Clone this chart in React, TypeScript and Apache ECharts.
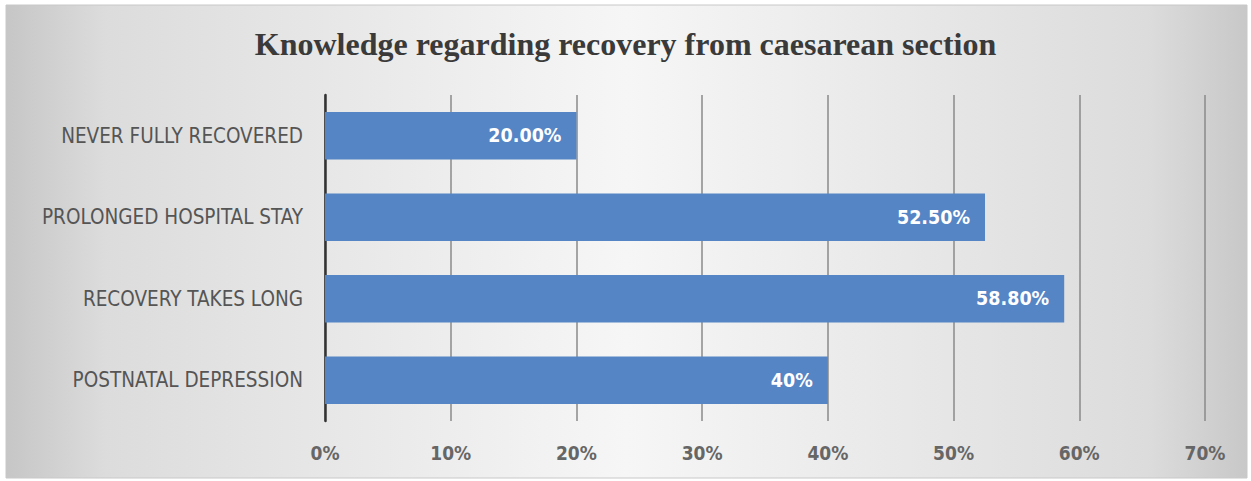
import React, { useEffect, useRef } from "react";
import * as echarts from "echarts";

const categories = [
  "NEVER FULLY RECOVERED",
  "PROLONGED HOSPITAL STAY",
  "RECOVERY TAKES LONG",
  "POSTNATAL DEPRESSION",
];
const values = [0.2, 0.525, 0.588, 0.4];
const valueLabels = ["20.00%", "52.50%", "58.80%", "40%"];
const xTicks = { min: 0, max: 0.7, interval: 0.1 };
const titleText = "Knowledge regarding recovery from caesarean section";

export default function App() {
  const ref = useRef<HTMLDivElement>(null);
  useEffect(() => {
    document.body.style.margin = "0";
    const chart = echarts.init(ref.current!, undefined, { renderer: "svg" });
    chart.setOption({
      animation: false,
      backgroundColor: "#ffffff",
      graphic: [
        {
          type: "rect",
          z: -10,
          silent: true,
          shape: { x: 6, y: 5, width: 1241, height: 473 },
          style: {
            fill: {
              type: "linear",
              x: 0,
              y: 0,
              x2: 1,
              y2: 0,
              colorStops: [
                { offset: 0, color: "#c6c6c6" },
                { offset: 0.08, color: "#dcdcdc" },
                { offset: 0.5, color: "#f6f6f6" },
                { offset: 0.92, color: "#dcdcdc" },
                { offset: 1, color: "#c8c8c8" },
              ],
            },
            stroke: "#c8c8c8",
            lineWidth: 1,
          },
        },
      ],
      title: {
        text: titleText,
        left: "center",
        top: 23,
        textStyle: {
          fontFamily: "Liberation Serif",
          fontWeight: "bold",
          fontSize: 32,
          color: "#3a3a3a",
        },
      },
      grid: { left: 325, right: 46, top: 95, bottom: 60, containLabel: false },
      xAxis: {
        type: "value",
        min: xTicks.min,
        max: xTicks.max,
        interval: xTicks.interval,
        axisLine: { show: false },
        axisTick: { show: false },
        splitLine: { show: true, lineStyle: { color: "#8a8a8a", width: 1.5 } },
        axisLabel: {
          margin: 22,
          color: "#666666",
          fontFamily: "DejaVu Sans Condensed",
          fontWeight: "bold",
          fontSize: 19,
          formatter: (v: number) => Math.round(v * 100) + "%",
        },
      },
      yAxis: {
        type: "category",
        data: categories,
        inverse: true,
        axisTick: { show: false },
        axisLine: { show: true, lineStyle: { color: "#333333", width: 2.5 } },
        axisLabel: {
          margin: 22,
          color: "#555555",
          fontFamily: "DejaVu Sans Condensed",
          fontSize: 20.5,
        },
      },
      series: [
        {
          type: "bar",
          data: values,
          barCategoryGap: "42%",
          itemStyle: { color: "#5585c5" },
          label: {
            show: true,
            position: "insideRight",
            distance: 15,
            color: "#ffffff",
            fontWeight: "bold",
            fontFamily: "DejaVu Sans Condensed",
            fontSize: 19.5,
            formatter: (p: any) => valueLabels[p.dataIndex],
          },
        },
      ],
    });
    return () => chart.dispose();
  }, []);
  return (
    <div
      ref={ref}
      style={{ position: "fixed", left: 0, top: 0, width: 1251, height: 481 }}
    />
  );
}
